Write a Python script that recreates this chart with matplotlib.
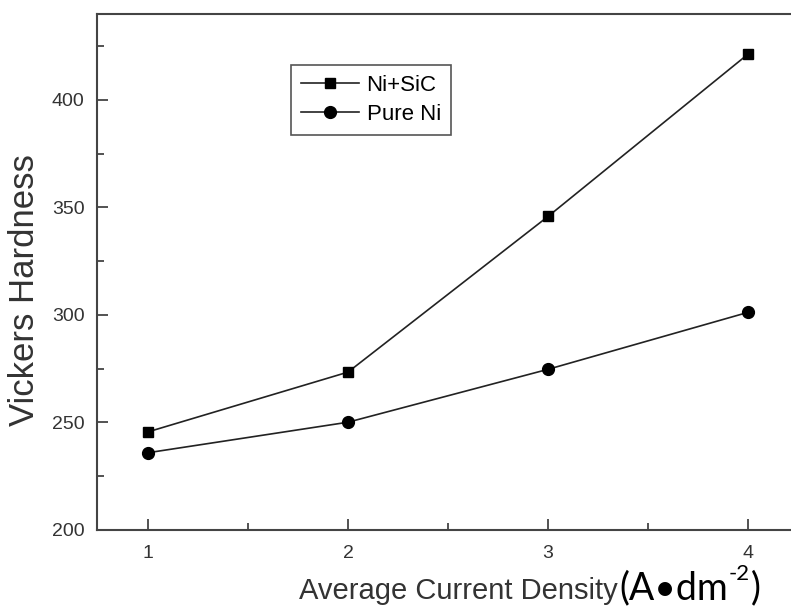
import matplotlib.pyplot as plt
from matplotlib.ticker import MultipleLocator

plt.rcParams['font.family'] = ['Liberation Sans', 'DejaVu Sans']

current_density = [1, 2, 3, 4]
hardness_nisic = [245.6, 273.4, 345.8, 421.3]
hardness_pure_ni = [235.9, 250.1, 274.7, 301.2]
series_labels = ["Ni+SiC", "Pure Ni"]

W, H = 791, 607
fig = plt.figure(figsize=(W / 100, H / 100), dpi=100)
ax = fig.add_axes([0.1226, 0.127, 0.8774, 0.850])

ax.plot(current_density, hardness_nisic, color="#222222", lw=1.2,
        marker="s", markersize=7.5, markerfacecolor="black",
        markeredgecolor="black", label=series_labels[0])
ax.plot(current_density, hardness_pure_ni, color="#222222", lw=1.2,
        marker="o", markersize=8.5, markerfacecolor="black",
        markeredgecolor="black", label=series_labels[1])

ax.set_xlim(0.745, 4.215)
ax.set_ylim(200, 440)
ax.set_xticks(current_density)
ax.yaxis.set_major_locator(MultipleLocator(50))
ax.yaxis.set_minor_locator(MultipleLocator(25))
ax.xaxis.set_minor_locator(MultipleLocator(0.5))

for s in ["left", "bottom", "top"]:
    ax.spines[s].set_linewidth(1.5)
    ax.spines[s].set_color("#444444")
ax.spines["right"].set_visible(False)

ax.tick_params(which="both", direction="in", top=False, right=False,
               colors="#444444", labelsize=14, width=1.3)
ax.tick_params(which="major", length=8, pad=9)
ax.tick_params(axis="x", which="major", pad=11)
ax.tick_params(which="minor", length=5)
for lab in ax.get_xticklabels() + ax.get_yticklabels():
    lab.set_color("#333333")

yl = ax.set_ylabel("Vickers Hardness", fontsize=25, color="#333333",
                   labelpad=8)
yl.set_y(0.465)
xl = ax.set_xlabel("Average Current Density", fontsize=21, color="#333333",
                   labelpad=11)
xl.set_x(0.521)

leg = ax.legend(loc="upper left", bbox_to_anchor=(0.2795, 0.901),
                borderaxespad=0, fontsize=16, handlelength=2.6,
                handletextpad=0.35, borderpad=0.45, labelspacing=0.35,
                fancybox=False, edgecolor="#555555", framealpha=1)
leg.get_frame().set_linewidth(1.2)

# unit part of the x label, drawn in a second font like the original
unit_font = ["Lato", "DejaVu Sans"]
renderer = fig.canvas.get_renderer()
x_end = xl.get_window_extent(renderer).x1
u1 = fig.text((x_end + 1) / W, (H - 599) / H, "(A\u2022dm", fontsize=27,
              family=unit_font, color="black", va="baseline")
x1 = u1.get_window_extent(renderer).x1
u2 = fig.text((x1 + 1) / W, (H - 580) / H, "-2", fontsize=16,
              family=unit_font, color="black", va="baseline")
x2 = u2.get_window_extent(renderer).x1
fig.text((x2 + 1) / W, (H - 599) / H, ")", fontsize=27,
         family=unit_font, color="black", va="baseline")

fig.savefig("out.png", dpi=100)
